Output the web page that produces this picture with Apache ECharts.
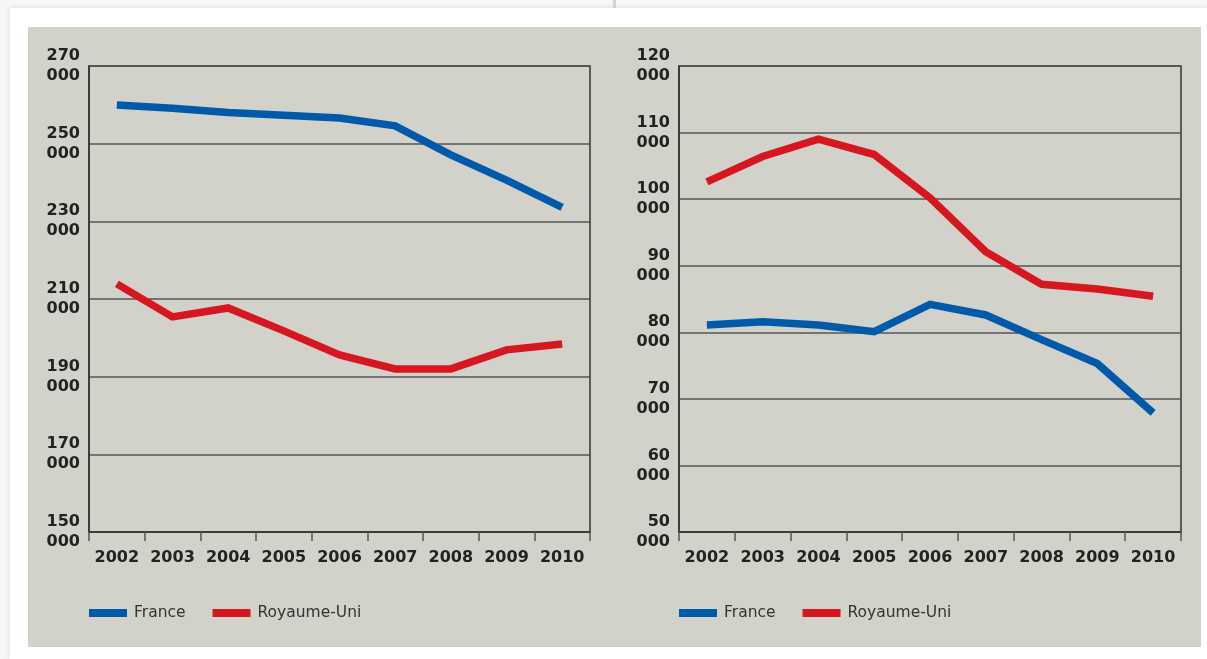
<!DOCTYPE html>
<html>
<head>
<meta charset="utf-8">
<script src="https://cdn.jsdelivr.net/npm/echarts@6/dist/echarts.min.js"></script>
<style>
html,body{margin:0;padding:0;width:1207px;height:659px;overflow:hidden;background:#f7f7f7;}
#card{position:absolute;left:10px;top:8px;width:1197px;height:651px;background:#fff;box-shadow:0 0 5px rgba(0,0,0,0.12);}
#div1{position:absolute;left:613px;top:0;width:3px;height:8px;background:#d2d2d2;}
#panel{position:absolute;left:28px;top:27px;width:1173px;height:620px;background:#d2d1ca;}
#chart{position:absolute;left:0;top:0;width:1207px;height:659px;}
</style>
</head>
<body>
<div id="card"></div>
<div id="div1"></div>
<div id="panel"></div>
<div id="chart"></div>
<script>
const years = ['2002','2003','2004','2005','2006','2007','2008','2009','2010'];
// Left chart
const leftFrance = [259950, 259100, 258000, 257300, 256600, 254600, 247100, 240600, 233600];
const leftUK = [213900, 205400, 207700, 201800, 195600, 192000, 192000, 196900, 198400];
// Right chart
const rightUK = [102600, 106400, 109000, 106700, 100200, 92100, 87200, 86500, 85400];
const rightFrance = [81100, 81600, 81100, 80100, 84200, 82600, 78900, 75300, 67900];
const leftTicks = {min: 150000, max: 270000, interval: 20000};
const rightTicks = {min: 50000, max: 120000, interval: 10000};
const legendNames = ['France', 'Royaume-Uni'];

const BLUE = '#005aaa', RED = '#d7171f';
const FONT = 'DejaVu Sans';
const fmt = v => Math.round(v / 1000) + '\n000';

function xAxis(gi) {
  return {
    type: 'category', gridIndex: gi, data: years, boundaryGap: true,
    axisLine: {lineStyle: {color: '#333', width: 1.5}},
    axisTick: {show: true, length: 9, lineStyle: {color: '#555', width: 1.5}},
    axisLabel: {color: '#222', fontFamily: FONT, fontWeight: 'bold', fontSize: 16, margin: 18, interval: 0},
    splitLine: {show: false}
  };
}
function yAxis(gi, t) {
  return {
    type: 'value', gridIndex: gi, min: t.min, max: t.max, interval: t.interval,
    axisLine: {show: true, lineStyle: {color: '#333', width: 1.5}},
    axisTick: {show: false},
    axisLabel: {color: '#222', fontFamily: FONT, fontWeight: 'bold', fontSize: 16, lineHeight: 20, margin: 9, formatter: fmt},
    splitLine: {show: true, lineStyle: {color: '#555', width: 1.5}}
  };
}
function legend(left) {
  return {
    left: left, top: 605, padding: 0, itemWidth: 38, itemHeight: 8, itemGap: 27, icon: 'rect',
    data: legendNames,
    textStyle: {color: '#333', fontFamily: FONT, fontSize: 15.5, lineHeight: 16, padding: [0, 0, 0, 2]}
  };
}
function line(name, data, gi, color) {
  return {
    name: name, type: 'line', xAxisIndex: gi, yAxisIndex: gi, data: data,
    showSymbol: false, symbol: 'none', color: color,
    lineStyle: {color: color, width: 7.5, join: 'miter'},
    emphasis: {disabled: true}
  };
}

const chart = echarts.init(document.getElementById('chart'), null, {renderer: 'canvas'});
chart.setOption({
  backgroundColor: 'transparent',
  animation: false,
  grid: [
    {left: 89, top: 66, width: 501, height: 466, show: true, borderColor: '#333', borderWidth: 1.5, backgroundColor: 'transparent'},
    {left: 679, top: 66, width: 502, height: 466, show: true, borderColor: '#333', borderWidth: 1.5, backgroundColor: 'transparent'}
  ],
  xAxis: [xAxis(0), xAxis(1)],
  yAxis: [yAxis(0, leftTicks), yAxis(1, rightTicks)],
  legend: [legend(89), legend(679)],
  series: [
    line('France', leftFrance, 0, BLUE),
    line('Royaume-Uni', leftUK, 0, RED),
    line('France', rightFrance, 1, BLUE),
    line('Royaume-Uni', rightUK, 1, RED)
  ]
});
</script>
</body>
</html>
